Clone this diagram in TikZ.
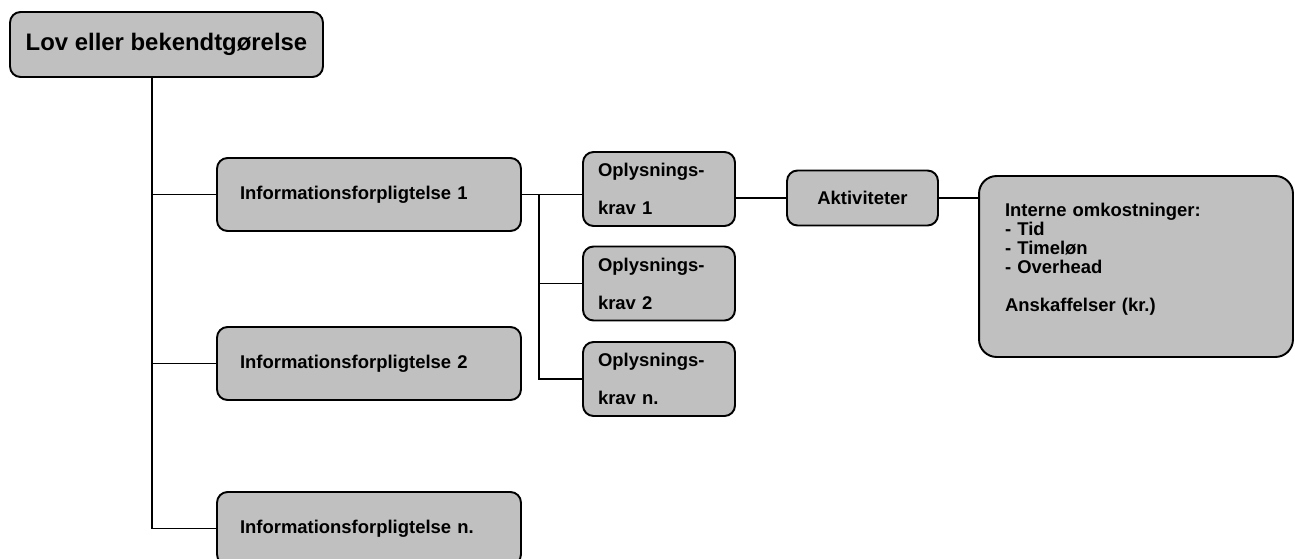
\documentclass[tikz,border=0pt]{standalone}
\usepackage{fontspec}
\setmainfont{Liberation Sans}
\usetikzlibrary{positioning}
\begin{document}
\begin{tikzpicture}[x=0.02cm,y=-0.02cm,
    box/.style={rectangle,rounded corners=6pt,draw,line width=1.1pt,fill=boxgray,
      font=\bfseries\fontsize{10.5}{12.6}\selectfont},
    info/.style={box,minimum width=6.08cm,minimum height=1.46cm,inner xsep=0.46cm,
      text width=5.16cm,align=left},
    krav/.style={box,minimum width=3.04cm,minimum height=1.48cm,inner xsep=0.3cm,
      text width=2.44cm,align=left,font=\bfseries\fontsize{10.5}{21.6}\selectfont},
    link/.style={line width=0.8pt}
    ]
    \definecolor{boxgray}{RGB}{192,192,192}
    \useasboundingbox (0,0) rectangle (1295,558);
    \node[box,minimum width=6.26cm,minimum height=1.3cm,
      font=\bfseries\fontsize{13.6}{16}\selectfont] (L) at (166.5,44.5) {Lov eller bekendtgørelse};
    \node[info] (I1) at (369,194.5) {Informationsforpligtelse 1};
    \node[info] (I2) at (369,363.5) {Informationsforpligtelse 2};
    \node[info] (In) at (369,528.5) {Informationsforpligtelse n.};
    \node[krav] (O1) at (659,189) {Oplysnings-\\krav 1};
    \node[krav] (O2) at (659,283.5) {Oplysnings-\\krav 2};
    \node[krav] (On) at (659,379) {Oplysnings-\\krav n.};
    \node[box,minimum width=3.02cm,minimum height=1.1cm] (A) at (862.5,198) {Aktiviteter};
    \node[box,rounded corners=10pt,minimum width=6.28cm,minimum height=3.62cm,
      inner xsep=0.52cm,text width=5.24cm,align=left,
      font=\bfseries\fontsize{10.5}{10.8}\selectfont] (C) at (1136,266.5)
      {Interne omkostninger:\\- Tid\\- Timeløn\\- Overhead\\[10.8pt]Anskaffelser (kr.)\\[0pt]\mbox{}};
    \coordinate (T) at (152,0);
    \coordinate (B) at (539,0);
    \draw[link] (L.south -| T) |- (In.west);
    \draw[link] (T |- I1.west) -- (I1.west);
    \draw[link] (T |- I2.west) -- (I2.west);
    \draw[link] (I1.east) -- (I1.east -| O1.west);
    \draw[link] (B |- I1.east) |- (On.west);
    \draw[link] (B |- O2.west) -- (O2.west);
    \draw[link] (A.west -| O1.east) -- (A.west);
    \draw[link] (A.east) -- (A.east -| C.west);
\end{tikzpicture}
\end{document}
